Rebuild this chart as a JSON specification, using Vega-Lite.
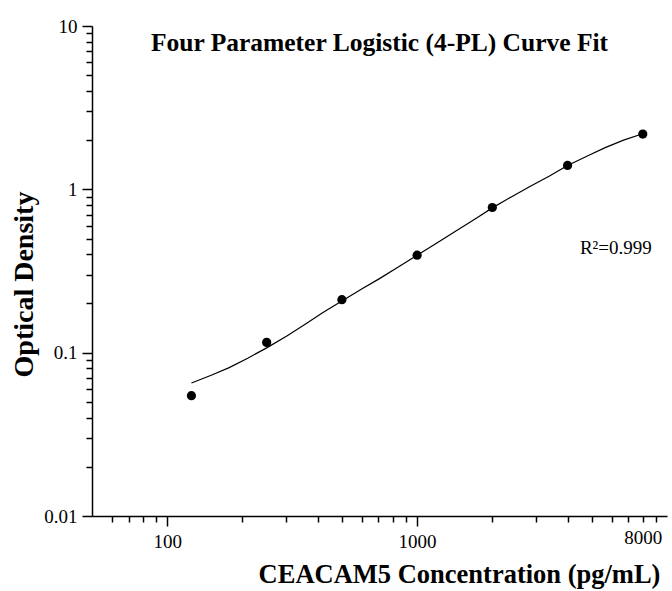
{
  "$schema": "https://vega.github.io/schema/vega-lite/v6.json",
  "width": 575,
  "height": 490,
  "autosize": "none",
  "padding": {"left": 92, "top": 26, "right": 5, "bottom": 75},
  "background": "white",
  "config": {"view": {"stroke": null}, "font": "Liberation Serif"},
  "title": {
    "text": "Four Parameter Logistic (4-PL) Curve Fit",
    "font": "Liberation Serif",
    "fontSize": 25.5,
    "fontWeight": "bold",
    "color": "black",
    "anchor": "middle",
    "frame": "group",
    "baseline": "alphabetic",
    "offset": 0,
    "dy": 59
  },
  "datasets": {
    "points": [
      {"conc": 125, "od": 0.0545},
      {"conc": 250, "od": 0.1156},
      {"conc": 500, "od": 0.211},
      {"conc": 1000, "od": 0.395},
      {"conc": 2000, "od": 0.774},
      {"conc": 4000, "od": 1.40},
      {"conc": 8000, "od": 2.18}
    ],
    "curve": [
      {"conc": 125, "od": 0.0652},
      {"conc": 150, "od": 0.0728},
      {"conc": 177, "od": 0.081},
      {"conc": 210, "od": 0.0925},
      {"conc": 250, "od": 0.107},
      {"conc": 300, "od": 0.126},
      {"conc": 354, "od": 0.148},
      {"conc": 420, "od": 0.176},
      {"conc": 500, "od": 0.207},
      {"conc": 600, "od": 0.245},
      {"conc": 707, "od": 0.284},
      {"conc": 850, "od": 0.338},
      {"conc": 1000, "od": 0.395},
      {"conc": 1200, "od": 0.47},
      {"conc": 1414, "od": 0.55},
      {"conc": 1700, "od": 0.655},
      {"conc": 2000, "od": 0.77},
      {"conc": 2400, "od": 0.905},
      {"conc": 2828, "od": 1.04},
      {"conc": 3400, "od": 1.21},
      {"conc": 4000, "od": 1.40},
      {"conc": 4800, "od": 1.60},
      {"conc": 5657, "od": 1.80},
      {"conc": 6700, "od": 2.0},
      {"conc": 8000, "od": 2.19}
    ],
    "note": [
      {"conc": 6240, "od": 0.437, "label": "R²=0.999"}
    ]
  },
  "encoding": {
    "x": {
      "field": "conc",
      "type": "quantitative",
      "scale": {"type": "log", "domain": [50, 10000]},
      "axis": {
        "title": "CEACAM5 Concentration (pg/mL)",
        "titleFont": "Liberation Serif",
        "titleFontSize": 26.5,
        "titleFontWeight": "bold",
        "titleColor": "black",
        "titleX": 367,
        "titleY": 66,
        "titleAlign": "center",
        "titleBaseline": "alphabetic",
        "values": [60, 70, 80, 90, 100, 200, 300, 400, 500, 600, 700, 800, 900, 1000, 2000, 3000, 4000, 5000, 6000, 7000, 8000, 9000],
        "labelExpr": "datum.value == 100 ? '100' : datum.value == 1000 ? '1000' : datum.value == 8000 ? '8000' : ''",
        "labelFont": "Liberation Serif",
        "labelFontSize": 19,
        "labelColor": "black",
        "labelOverlap": false,
        "labelFlush": false,
        "labelBound": false,
        "labelPadding": 6,
        "tickSize": {"condition": {"test": "datum.value == 100 || datum.value == 1000", "value": 10}, "value": 6},
        "tickColor": "black",
        "tickWidth": 1.5,
        "domainColor": "black",
        "domainWidth": 1.5,
        "grid": false
      }
    },
    "y": {
      "field": "od",
      "type": "quantitative",
      "scale": {"type": "log", "domain": [0.01, 10]},
      "axis": {
        "title": "Optical Density",
        "titleFont": "Liberation Serif",
        "titleFontSize": 28,
        "titleFontWeight": "bold",
        "titleColor": "black",
        "titleX": -60,
        "titleY": 258,
        "titleAlign": "center",
        "titleBaseline": "alphabetic",
        "values": [0.01, 0.02, 0.03, 0.04, 0.05, 0.06, 0.07, 0.08, 0.09, 0.1, 0.2, 0.3, 0.4, 0.5, 0.6, 0.7, 0.8, 0.9, 1, 2, 3, 4, 5, 6, 7, 8, 9, 10],
        "labelExpr": "datum.value == 0.01 ? '0.01' : datum.value == 0.1 ? '0.1' : datum.value == 1 ? '1' : datum.value == 10 ? '10' : ''",
        "labelFont": "Liberation Serif",
        "labelFontSize": 19,
        "labelColor": "black",
        "labelOverlap": false,
        "labelBound": false,
        "labelFlush": false,
        "labelPadding": 5,
        "tickSize": {"condition": {"test": "datum.value == 0.01 || datum.value == 0.1 || datum.value == 1 || datum.value == 10", "value": 10}, "value": 6},
        "tickColor": "black",
        "tickWidth": 1.5,
        "domainColor": "black",
        "domainWidth": 1.5,
        "grid": false
      }
    }
  },
  "layer": [
    {
      "data": {"name": "curve"},
      "mark": {"type": "line", "color": "black", "strokeWidth": 1.2, "interpolate": "linear"}
    },
    {
      "data": {"name": "points"},
      "mark": {"type": "point", "filled": true, "color": "black", "size": 85, "opacity": 1}
    },
    {
      "data": {"name": "note"},
      "mark": {"type": "text", "font": "Liberation Serif", "fontSize": 19, "color": "black", "align": "center", "baseline": "middle"},
      "encoding": {"text": {"field": "label"}}
    }
  ]
}
